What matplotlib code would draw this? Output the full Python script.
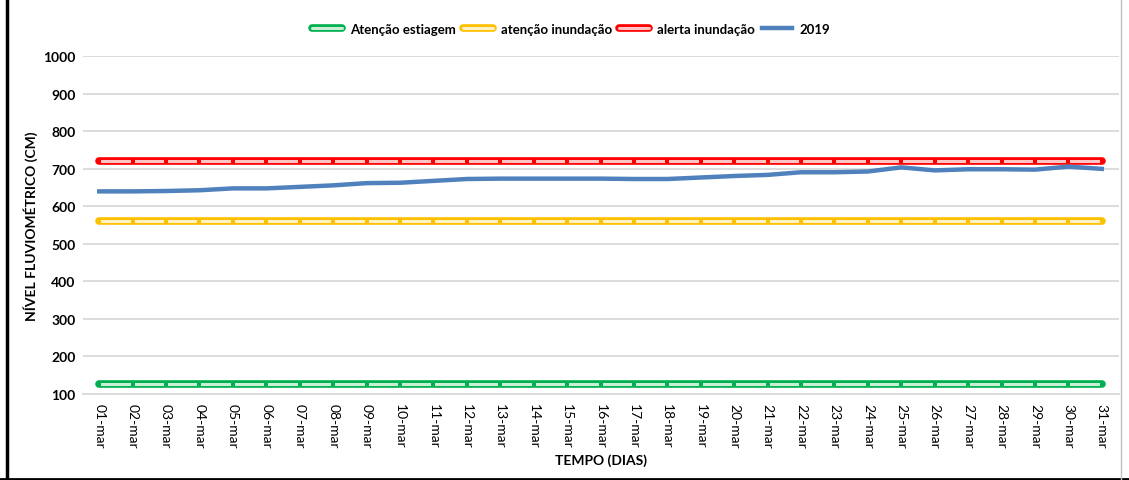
import matplotlib.pyplot as plt
import matplotlib.patheffects as pe
from matplotlib.lines import Line2D

# dias de março
dias = ['%02d-mar' % d for d in range(1, 32)]

# cotas de referência (cm)
atencao_estiagem = [125] * 31
atencao_inundacao = [560] * 31
alerta_inundacao = [720] * 31

# nível observado em 2019 (cm)
nivel_2019 = [639, 639, 640, 642, 647, 647, 651, 655, 661, 662,
              667, 672, 673, 673, 673, 673, 672, 672, 676, 680,
              683, 690, 690, 692, 703, 695, 698, 698, 697, 705, 699]

plt.rcParams['font.family'] = ['Lato', 'DejaVu Sans']

fig = plt.figure(figsize=(11.29, 4.81), dpi=100)
ax = fig.add_axes([0.0731, 0.1798, 0.9176, 0.7017])

x = list(range(len(dias)))


def linha_contorno(y, borda, miolo, label):
    ax.plot(x, y, color=miolo, lw=2.2, label=label, solid_capstyle='round',
            path_effects=[pe.Stroke(linewidth=5.5, foreground=borda,
                                    capstyle='round'), pe.Normal()],
            zorder=3)
    ax.plot(x, y, ls='none', marker='s', ms=3.2, color=borda, mew=0, zorder=4)


linha_contorno(atencao_estiagem, '#00b050', '#c9f0d6', 'Atenção estiagem')
linha_contorno(atencao_inundacao, '#ffc000', '#fff2c4', 'atenção inundação')
linha_contorno(alerta_inundacao, '#ff0000', '#ffc4c4', 'alerta inundação')
ax.plot(x, nivel_2019, color='#4f81bd', lw=3.2, label='2019', zorder=5)

ax.set_xlim(-0.5, len(dias) - 0.5)
ax.set_ylim(100, 1000)
ax.set_yticks(range(100, 1001, 100))
ax.set_xticks(x)
ax.set_xticklabels(dias, rotation=-90, fontsize=10)
for t in ax.get_yticklabels():
    t.set_fontweight('bold')
    t.set_fontsize(10)

ax.grid(axis='y', color='#d9d9d9', lw=1.3)
ax.set_axisbelow(True)
for s in ['top', 'right', 'left']:
    ax.spines[s].set_visible(False)
ax.spines['bottom'].set_color('#d9d9d9')
ax.spines['bottom'].set_linewidth(1.3)
ax.tick_params(axis='both', length=0)
ax.tick_params(axis='x', pad=7)
ax.tick_params(axis='y', pad=5)

ax.set_ylabel('NÍVEL FLUVIOMÉTRICO (CM)', fontsize=10, fontweight='bold')
ax.yaxis.set_label_coords(-0.043, 0.5)
ax.set_xlabel('TEMPO (DIAS)', fontsize=10, fontweight='bold', labelpad=4)

fig.legend(loc='center', bbox_to_anchor=(0.506, 0.9376), ncol=4,
           frameon=False, handlelength=2.3, handletextpad=0.6,
           columnspacing=0.5, prop={'weight': 'bold', 'size': 9.5})

# moldura
fig.add_artist(Line2D([0.006, 0.006], [0, 1], color='black', lw=2.5,
                      transform=fig.transFigure))
fig.add_artist(Line2D([0, 1], [0.003, 0.003], color='black', lw=2,
                      transform=fig.transFigure))
fig.add_artist(Line2D([0.993, 0.993], [0, 1], color='#bfbfbf', lw=1,
                      transform=fig.transFigure))

fig.savefig('out.png', dpi=100)
